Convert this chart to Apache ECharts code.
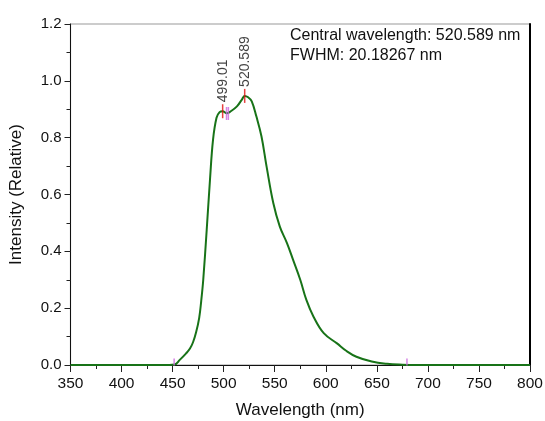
<!DOCTYPE html>
<html><head><meta charset="utf-8">
<script src="https://cdn.jsdelivr.net/npm/echarts@6/dist/echarts.min.js"></script>
<style>html,body{margin:0;padding:0;background:#fff}#c{width:545px;height:421px}</style>
</head><body><div id="c"></div>
<script>
const wavelengths = [350, 400, 440, 452, 457, 463, 467, 470, 473, 476, 478, 480, 483.4, 486.6, 489.6, 493, 496, 499.01, 503, 507, 513, 518, 520.6, 524, 527.5, 532, 537, 542, 548.6, 555, 562, 568, 575, 581, 588, 598, 611, 620, 630, 645, 660, 675, 690, 750, 800];
const intensity   = [0, 0, 0, 0.002, 0.018, 0.04, 0.058, 0.08, 0.115, 0.165, 0.225, 0.30, 0.476, 0.652, 0.793, 0.87, 0.89, 0.893, 0.886, 0.893, 0.91, 0.935, 0.947, 0.942, 0.928, 0.875, 0.805, 0.699, 0.57, 0.487, 0.429, 0.37, 0.30, 0.229, 0.17, 0.112, 0.076, 0.05, 0.029, 0.012, 0.004, 0.001, 0, 0, 0];
const peakWl = [499.01, 520.589];
const peakInt = [0.893, 0.947];
const peakLabels = ['499.01', '520.589'];
const markWl = [451.5, 502.8, 504.6, 679.5];
const markInt = [0, 0.885, 0.885, 0];
const xTicks = [350, 400, 450, 500, 550, 600, 650, 700, 750, 800];
const yTicks = [0, 0.2, 0.4, 0.6, 0.8, 1.0, 1.2];
const infoLines = ['Central wavelength: 520.589 nm', 'FWHM: 20.18267 nm'];

const FONT = 'Liberation Sans, Arial, sans-serif';
const chart = echarts.init(document.getElementById('c'), null, {renderer: 'canvas'});
const lineData = wavelengths.map((w, i) => [w, intensity[i]]);
const peakData = peakWl.map((w, i) => ({value: [w, peakInt[i]], label: {formatter: peakLabels[i]}}));
const markData = markWl.map((w, i) => ({value: [w, markInt[i]], symbolSize: markInt[i] === 0 ? [1.5, 7] : [1.5, 13], symbolOffset: markInt[i] === 0 ? [0, -3] : [0, 0]}));

chart.setOption({
  animation: false,
  backgroundColor: '#fff',
  grid: {left: 70.5, right: 15, top: 24, bottom: 56, containLabel: false, outerBoundsMode: 'none',
    show: true, borderColor: '#999', borderWidth: 1.2, backgroundColor: 'transparent'},
  xAxis: [{
    type: 'value', min: xTicks[0], max: xTicks[xTicks.length - 1], interval: 50,
    name: 'Wavelength (nm)', nameLocation: 'middle', nameGap: 37,
    nameTextStyle: {fontFamily: FONT, fontSize: 17, color: '#111'},
    axisLine: {show: true, onZero: false, lineStyle: {color: '#111', width: 1}},
    axisTick: {show: true, inside: false, length: 7, lineStyle: {color: '#222'}},
    minorTick: {show: true, splitNumber: 2, length: 4, lineStyle: {color: '#222'}},
    axisLabel: {fontFamily: FONT, fontSize: 15.5, color: '#111', margin: 11},
    splitLine: {show: false}
  }],
  yAxis: [{
    type: 'value', min: 0, max: 1.2, interval: 0.2,
    name: 'Intensity (Relative)', nameLocation: 'middle', nameGap: 46,
    nameTextStyle: {fontFamily: FONT, fontSize: 17, color: '#111'},
    axisLine: {show: true, onZero: false, lineStyle: {color: '#111', width: 1}},
    axisTick: {show: true, inside: false, length: 6, lineStyle: {color: '#222'}},
    minorTick: {show: true, splitNumber: 2, length: 4, lineStyle: {color: '#222'}},
    axisLabel: {fontFamily: FONT, fontSize: 15, color: '#111', margin: 9, formatter: v => v.toFixed(1)},
    splitLine: {show: false}
  }, {
    type: 'value', position: 'right', min: 0, max: 1.2,
    axisLine: {show: true, onZero: false, lineStyle: {color: '#000', width: 2}},
    axisTick: {show: false}, axisLabel: {show: false}, splitLine: {show: false}
  }],
  series: [{
    type: 'line', data: lineData, smooth: 0.4, showSymbol: false,
    lineStyle: {color: '#187318', width: 2}, z: 3
  }, {
    type: 'scatter', data: markData, symbol: 'rect',
    itemStyle: {color: '#cc66dd'}, z: 4
  }, {
    type: 'scatter', data: peakData, symbol: 'rect', symbolSize: [1.5, 14],
    itemStyle: {color: '#e01010'}, z: 5,
    label: {show: true, position: 'top', distance: 2, rotate: 90, align: 'left', verticalAlign: 'middle',
      fontFamily: FONT, fontSize: 14, color: '#111'}
  }],
  graphic: infoLines.map((t, i) => ({
    type: 'text', left: 290, top: 28 + i * 20,
    style: {text: t, font: '16px ' + FONT, fill: '#111'}
  }))
});
</script></body></html>
